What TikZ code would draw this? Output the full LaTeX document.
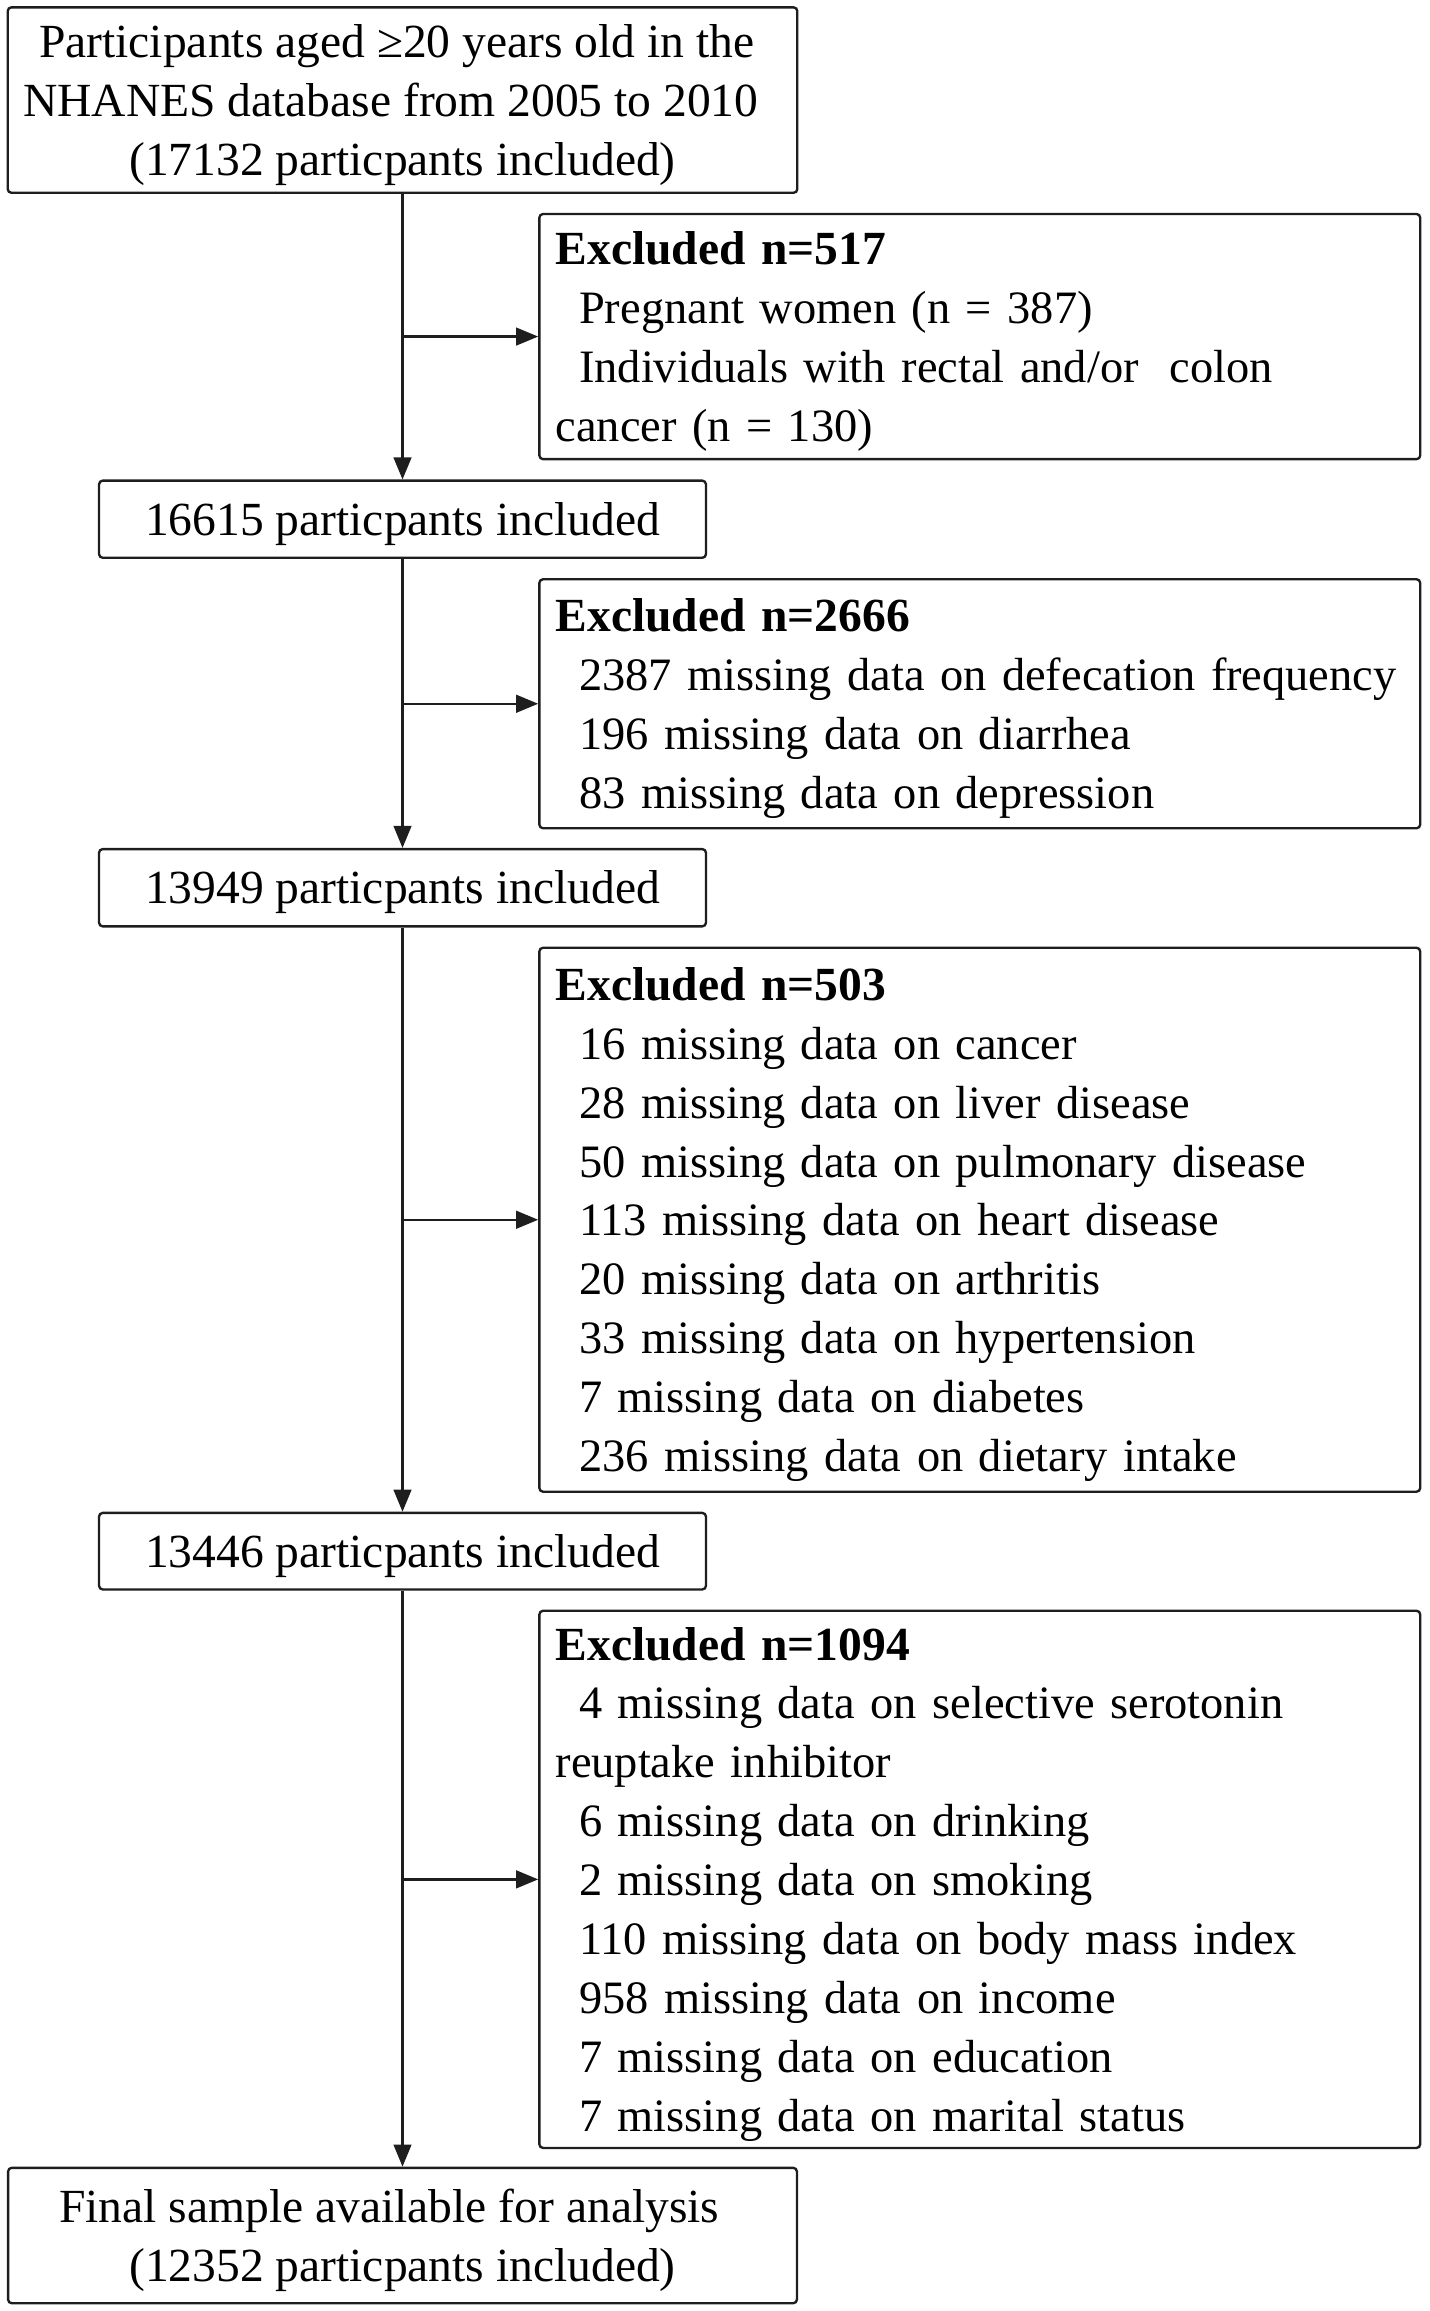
\documentclass[tikz,border=0pt]{standalone}
\usepackage{fontspec}
\setmainfont{Liberation Serif}
\usetikzlibrary{arrows.meta}
\definecolor{ln}{HTML}{1E1E1E}
\setlength{\parindent}{0pt}
\newcommand{\mystrut}{\rule[-9pt]{0pt}{40pt}}
\newcommand{\ind}{\hspace*{16pt}}
\newcommand{\xl}[1]{\mystrut\mbox{#1}}
\newcommand{\xh}[1]{\mystrut\mbox{\fontsize{32.3pt}{40pt}\selectfont\textbf{#1}}}
\begin{document}
\begin{tikzpicture}[x=1pt,y=-1pt,
  box/.style={draw=ln, line width=1.6pt, rounded corners=2.5pt, inner sep=0pt,
    font=\fontsize{32.3pt}{40pt}\selectfont},
  mainbox/.style={box, align=center},
  exbox/.style={box, align=left, inner xsep=11pt, minimum width=598.5pt, text width=576.5pt,
    font=\fontsize{31.55pt}{40pt}\selectfont},
  conn/.style={draw=ln, line width=1.6pt, -{Triangle[length=15pt,width=12pt]}}]
\useasboundingbox (0,0) rectangle (971,1570.3);

\node[mainbox, minimum width=536.5pt, minimum height=126pt] (top) at (273.5,68)
  {\mystrut\mbox{Participants aged ≥20 years old in the\kern8pt}\\
   \mystrut\mbox{NHANES database from 2005 to 2010\kern16pt}\\
   \mystrut\mbox{(17132 particpants included)}};

\node[exbox, minimum height=166.6pt] (ex1) at (665.75,228.7)
  {\xh{Excluded n=517}\\
   \xl{\ind Pregnant women (n = 387)}\\
   \xl{\ind Individuals with rectal and/or\ \ colon}\\
   \xl{cancer (n = 130)}};

\node[mainbox, minimum width=412.4pt, minimum height=52.4pt] (b2) at (273.5,352.8)
  {\mystrut 16615 particpants included};

\node[exbox, minimum height=169.2pt] (ex2) at (665.75,478.2)
  {\xh{Excluded n=2666}\\
   \xl{\ind 2387 missing data on defecation frequency}\\
   \xl{\ind 196 missing data on diarrhea}\\
   \xl{\ind 83 missing data on depression}};

\node[mainbox, minimum width=412.4pt, minimum height=52.5pt] (b3) at (273.5,603.2)
  {\mystrut 13949 particpants included};

\node[exbox, minimum height=369.6pt] (ex3) at (665.75,828.8)
  {\xh{Excluded n=503}\\
   \xl{\ind 16 missing data on cancer}\\
   \xl{\ind 28 missing data on liver disease}\\
   \xl{\ind 50 missing data on pulmonary disease}\\
   \xl{\ind 113 missing data on heart disease}\\
   \xl{\ind 20 missing data on arthritis}\\
   \xl{\ind 33 missing data on hypertension}\\
   \xl{\ind 7 missing data on diabetes}\\
   \xl{\ind 236 missing data on dietary intake}};

\node[mainbox, minimum width=412.4pt, minimum height=52pt] (b4) at (273.5,1054)
  {\mystrut 13446 particpants included};

\node[exbox, minimum height=365pt] (ex4) at (665.75,1277)
  {\xh{Excluded n=1094}\\
   \xl{\ind 4 missing data on selective serotonin}\\
   \xl{reuptake inhibitor}\\
   \xl{\ind 6 missing data on drinking}\\
   \xl{\ind 2 missing data on smoking}\\
   \xl{\ind 110 missing data on body mass index}\\
   \xl{\ind 958 missing data on income}\\
   \xl{\ind 7 missing data on education}\\
   \xl{\ind 7 missing data on marital status}};

\node[mainbox, minimum width=536pt, minimum height=92pt] (fin) at (273.5,1519)
  {\mystrut\mbox{Final sample available for analysis\kern18pt}\\
   \mystrut\mbox{(12352 particpants included)}};

\draw[conn] (top) -- (b2);
\draw[conn] (b2) -- (b3);
\draw[conn] (b3) -- (b4);
\draw[conn] (b4) -- (fin);
\draw[conn] (top.south |- ex1.west) -- (ex1.west);
\draw[conn] (b2.south |- ex2.west) -- (ex2.west);
\draw[conn] (b3.south |- ex3.west) -- (ex3.west);
\draw[conn] (b4.south |- ex4.west) -- (ex4.west);
\end{tikzpicture}
\end{document}
